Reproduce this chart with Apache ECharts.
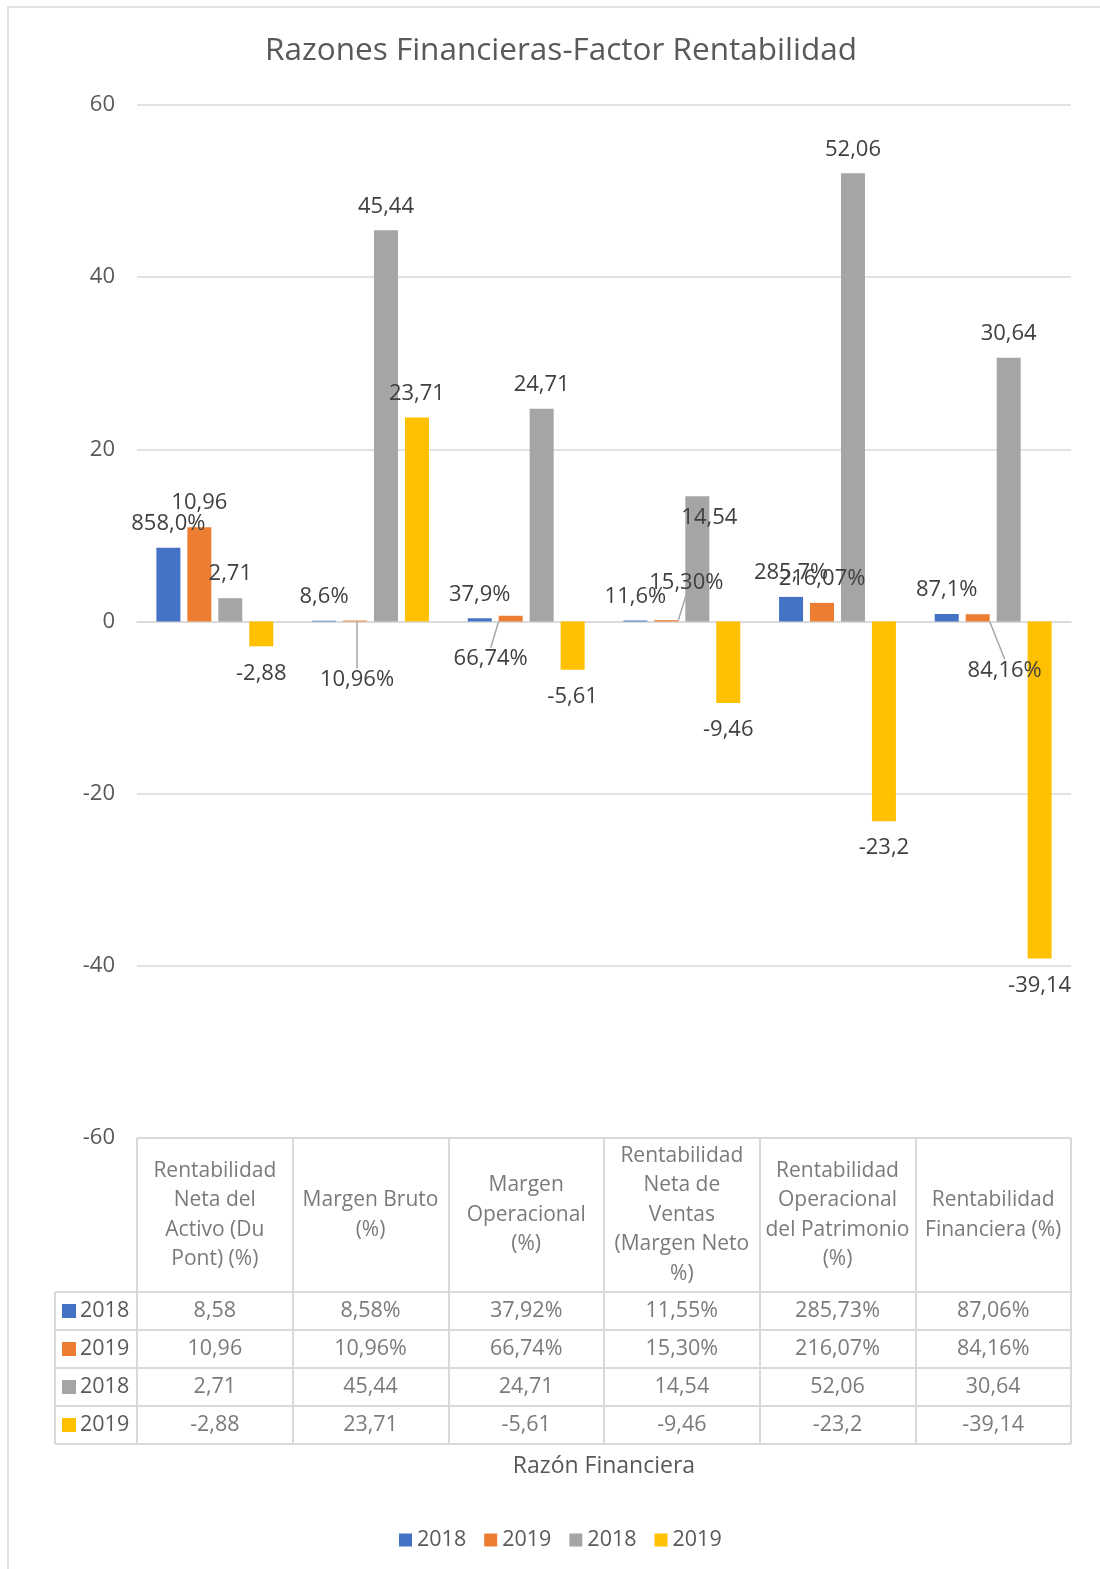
<!DOCTYPE html>
<html>
<head>
<meta charset="utf-8">
<script src="https://cdn.jsdelivr.net/npm/echarts@6/dist/echarts.min.js"></script>
<style>
html,body{margin:0;padding:0;background:#fff;}
#chart{width:1100px;height:1569px;}
</style>
</head>
<body>
<div id="chart"></div>
<script>
// ---------- data ----------
const title = 'Razones Financieras-Factor Rentabilidad';
const axisTitle = 'Razón Financiera';
const categories = [
  'Rentabilidad\nNeta del\nActivo (Du\nPont) (%)',
  'Margen Bruto\n(%)',
  'Margen\nOperacional\n(%)',
  'Rentabilidad\nNeta de\nVentas\n(Margen Neto\n%)',
  'Rentabilidad\nOperacional\ndel Patrimonio\n(%)',
  'Rentabilidad\nFinanciera (%)'
];
const seriesNames = ['2018', '2019', '2018', '2019'];
const values2018a = [8.58, 0.0858, 0.3792, 0.1155, 2.8573, 0.8706];
const values2019a = [10.96, 0.1096, 0.6674, 0.1530, 2.1607, 0.8416];
const values2018b = [2.71, 45.44, 24.71, 14.54, 52.06, 30.64];
const values2019b = [-2.88, 23.71, -5.61, -9.46, -23.2, -39.14];
const yTicks = { min: -60, max: 60, interval: 20 };

// number formats (as in the source workbook)
const tableFormats = [
  ['num', 'pct2', 'pct2', 'pct2', 'pct2', 'pct2'],
  ['num', 'pct2', 'pct2', 'pct2', 'pct2', 'pct2'],
  ['num', 'num', 'num', 'num', 'num', 'num'],
  ['num', 'num', 'num', 'num', 'num', 'num']
];
const labelFormats = [
  ['pct1', 'pct1', 'pct1', 'pct1', 'pct1', 'pct1'],
  ['num', 'pct2', 'pct2', 'pct2', 'pct2', 'pct2'],
  ['num', 'num', 'num', 'num', 'num', 'num'],
  ['num', 'num', 'num', 'num', 'num', 'num']
];

// ---------- style ----------
const colors = ['#4472c4', '#ed7d31', '#a5a5a5', '#ffc000'];
const FONT = '"Open Sans", Lato, sans-serif';
const axisGray = '#595959';
const labelGray = '#404040';
const lineGray = '#d9d9d9';
// manually moved data labels (series -> dataIndex -> [dx, dy])
const labelMoves = {
  1: { 1: [2, 83], 2: [-20, 67], 3: [20, -13], 5: [27, 80] },
  2: { 3: [12, 45] }
};

function fmt(v, f) {
  if (f === 'pct1') return (v * 100).toFixed(1).replace('.', ',') + '%';
  if (f === 'pct2') return (v * 100).toFixed(2).replace('.', ',') + '%';
  return String(Math.round(v * 100) / 100).replace('.', ',');
}

const allValues = [values2018a, values2019a, values2018b, values2019b];
const legendNames = seriesNames.map((n, i) => n + '#' + i);

const barSeries = allValues.map((vals, s) => ({
  type: 'bar',
  name: legendNames[s],
  xAxisIndex: 0,
  yAxisIndex: 0,
  barWidth: 24,
  barGap: '29%',
  itemStyle: { color: colors[s] },
  data: vals.map((v, i) => {
    const moved = labelMoves[s] && labelMoves[s][i];
    return {
      value: v,
      label: {
        position: v >= 0 ? 'top' : 'bottom',
        distance: v >= 0 ? 13 : 16
      },
      labelLine: { show: !!moved }
    };
  }),
  label: {
    show: true,
    fontFamily: FONT,
    fontSize: 22,
    color: labelGray,
    formatter: p => fmt(p.value, labelFormats[s][p.dataIndex])
  },
  labelLine: { show: false, lineStyle: { color: '#a6a6a6', width: 1.5 } },
  labelLayout: function (p) {
    const m = labelMoves[s] && labelMoves[s][p.dataIndex];
    return m ? { dx: m[0], dy: m[1] } : {};
  }
}));

// header cells
const headerCells = categories.map((c, i) => [i, 0, c]);
// table cells
const tableCells = [];
allValues.forEach((vals, r) => vals.forEach((v, c) => tableCells.push([c, r, fmt(v, tableFormats[r][c])])));

const PL = 137, PR = 1100 - 1071;

const option = {
  backgroundColor: '#ffffff',
  animation: false,
  textStyle: { fontFamily: FONT },
  title: {
    text: title,
    left: 556,
    textAlign: 'center',
    top: 30,
    textStyle: { fontFamily: FONT, fontSize: 31.5, fontWeight: 'normal', color: axisGray }
  },
  legend: {
    data: legendNames,
    formatter: n => n.split('#')[0],
    left: 394,
    top: 1524,
    icon: 'rect',
    itemWidth: 13,
    itemHeight: 13,
    itemGap: 18,
    textStyle: { fontFamily: FONT, fontSize: 21.5, color: axisGray }
  },
  graphic: [{
    type: 'rect',
    shape: { x: 8, y: 7, width: 1200, height: 1700 },
    style: { fill: 'none', stroke: lineGray, lineWidth: 1.5 },
    silent: true
  }],
  grid: [
    { left: PL, right: PR, top: 105, height: 1033 },           // plot
    { left: PL, right: PR, top: 1138, height: 154 },           // header row
    { left: PL, right: PR, top: 1292, height: 152 },           // data rows
    { left: 55, width: PL - 55, top: 1292, height: 152 }       // legend keys column
  ],
  xAxis: [
    {
      gridIndex: 0, type: 'category', data: categories,
      axisLine: { show: true, onZero: true, lineStyle: { color: lineGray, width: 1.5 } },
      axisTick: { show: false }, axisLabel: { show: false }, splitLine: { show: false }
    },
    {
      gridIndex: 1, type: 'category', data: categories,
      axisLine: { show: false }, axisTick: { show: false }, axisLabel: { show: false },
      splitLine: { show: true, interval: 0, lineStyle: { color: lineGray, width: 2 } }
    },
    {
      gridIndex: 2, type: 'category', data: categories,
      axisLine: { show: false }, axisTick: { show: false }, axisLabel: { show: false },
      splitLine: { show: true, interval: 0, lineStyle: { color: lineGray, width: 2 } },
      name: axisTitle, nameLocation: 'middle', nameGap: 11,
      nameTextStyle: { fontFamily: FONT, fontSize: 23, color: axisGray }
    },
    {
      gridIndex: 3, type: 'category', data: [''],
      axisLine: { show: false }, axisTick: { show: false }, axisLabel: { show: false },
      splitLine: { show: true, interval: 0, lineStyle: { color: lineGray, width: 2 } }
    }
  ],
  yAxis: [
    {
      gridIndex: 0, type: 'value', min: yTicks.min, max: yTicks.max, interval: yTicks.interval,
      axisLine: { show: false }, axisTick: { show: false },
      axisLabel: { fontFamily: FONT, fontSize: 22, color: axisGray, margin: 22 },
      splitLine: { show: true, lineStyle: { color: lineGray, width: 1.5 } }
    },
    {
      gridIndex: 1, type: 'category', data: [''],
      axisLine: { show: false }, axisTick: { show: false }, axisLabel: { show: false },
      splitLine: { show: true, interval: 0, lineStyle: { color: lineGray, width: 2 } }
    },
    {
      gridIndex: 2, type: 'category', data: seriesNames, inverse: true,
      axisLine: { show: false }, axisTick: { show: false }, axisLabel: { show: false },
      splitLine: { show: true, interval: 0, lineStyle: { color: lineGray, width: 2 } }
    },
    {
      gridIndex: 3, type: 'category', data: seriesNames, inverse: true,
      axisLine: { show: false }, axisTick: { show: false },
      axisLabel: {
        show: true, inside: true, margin: 7, interval: 0,
        formatter: (v, i) => '{s' + i + '|}{t|' + v + '}',
        rich: {
          s0: { width: 14, height: 14, backgroundColor: colors[0] },
          s1: { width: 14, height: 14, backgroundColor: colors[1] },
          s2: { width: 14, height: 14, backgroundColor: colors[2] },
          s3: { width: 14, height: 14, backgroundColor: colors[3] },
          t: { fontFamily: FONT, fontSize: 21.5, color: axisGray, padding: [0, 0, 0, 4] }
        }
      },
      splitLine: { show: true, interval: 0, lineStyle: { color: lineGray, width: 2 } }
    }
  ],
  series: barSeries.concat([
    {
      type: 'scatter', name: 'header', xAxisIndex: 1, yAxisIndex: 1, symbolSize: 0, silent: true,
      data: headerCells,
      label: {
        show: true, position: 'inside', formatter: p => p.data[2],
        fontFamily: FONT, fontSize: 21, lineHeight: 29.5, color: axisGray, align: 'center'
      }
    },
    {
      type: 'scatter', name: 'table', xAxisIndex: 2, yAxisIndex: 2, symbolSize: 0, silent: true,
      data: tableCells,
      label: {
        show: true, position: 'inside', formatter: p => p.data[2],
        fontFamily: FONT, fontSize: 21.5, color: axisGray
      }
    }
  ])
};

const chart = echarts.init(document.getElementById('chart'), null, { renderer: 'canvas' });
chart.setOption(option);
</script>
</body>
</html>
